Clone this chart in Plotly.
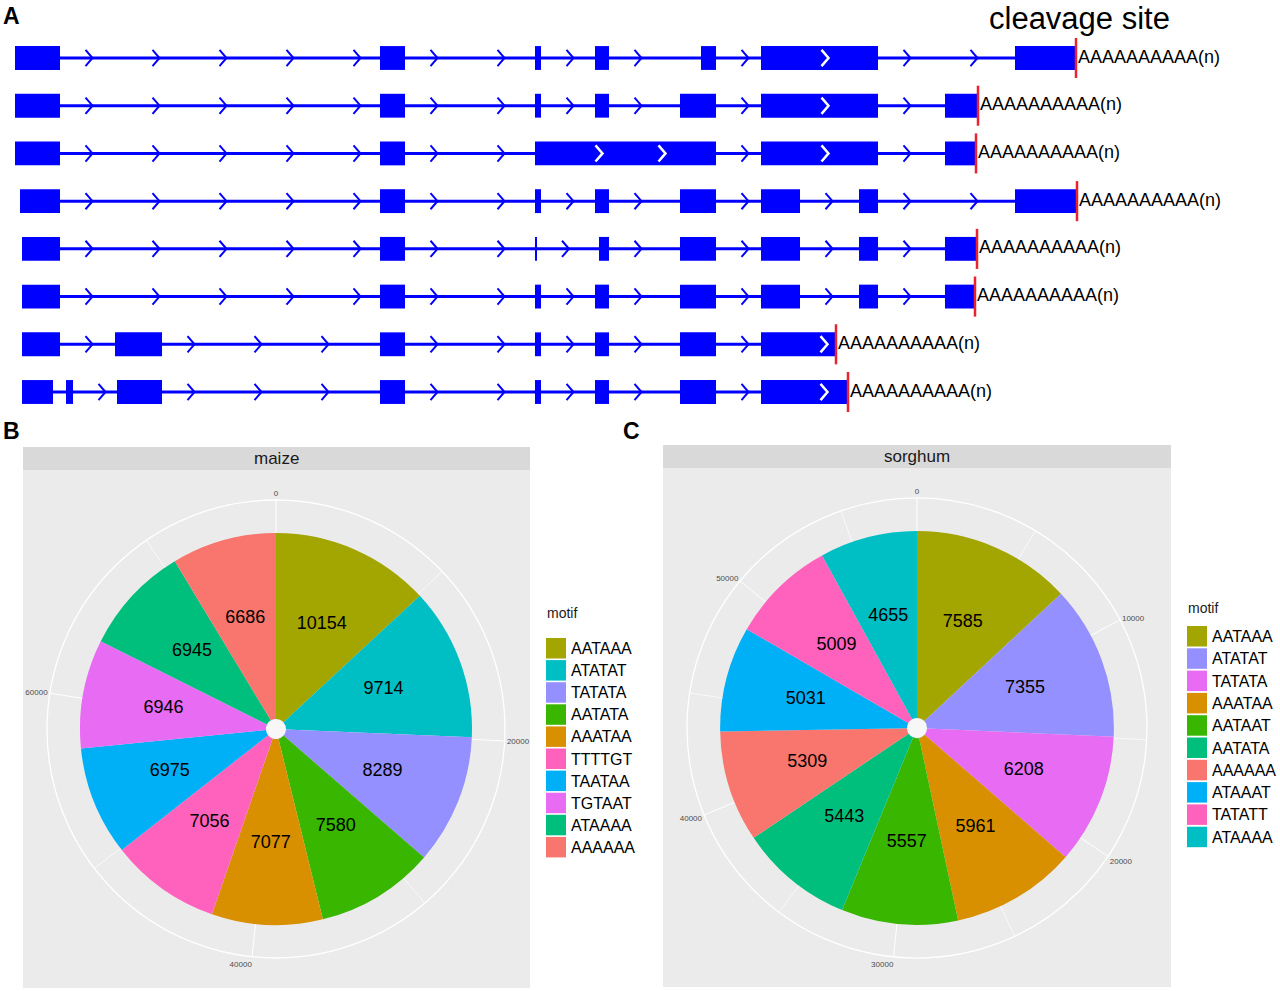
import plotly.graph_objects as go

W, H = 1280, 991

# ---------------- Panel A data (positions in arbitrary genomic units) ----------------
transcript_ids = [1, 2, 3, 4, 5, 6, 7, 8]
exon_starts = [
    [15, 380, 535, 595, 701, 761, 1015],
    [15, 380, 535, 595, 680, 761, 945],
    [15, 380, 535, 761, 945],
    [20, 380, 535, 595, 680, 761, 859, 1015],
    [22, 380, 535.5, 599, 680, 761, 859, 945],
    [22, 380, 535, 595, 680, 761, 859, 945],
    [22, 115, 380, 535, 595, 680, 761],
    [22, 66, 117, 380, 535, 595, 680, 761],
]
exon_ends = [
    [60, 405, 541, 609, 716, 878, 1076],
    [60, 405, 541, 609, 716, 878, 978],
    [60, 405, 716, 878, 976],
    [60, 405, 541, 609, 716, 800, 878, 1077],
    [60, 405, 536.5, 609, 716, 800, 878, 977],
    [60, 405, 541, 609, 716, 800, 878, 974],
    [60, 162, 405, 541, 609, 716, 836],
    [53, 73, 162, 405, 541, 609, 716, 847],
]
cleavage_sites = [1076, 978, 976, 1077, 977, 975, 836, 848]
exon_chevrons = [[825], [825], [599, 662, 825], [], [], [], [824], [824]]
polyA_text = "AAAAAAAAAA(n)"

# ---------------- Panels B / C data ----------------
maize_motifs = ["AATAAA", "ATATAT", "TATATA", "AATATA", "AAATAA",
                "TTTTGT", "TAATAA", "TGTAAT", "ATAAAA", "AAAAAA"]
maize_counts = [10154, 9714, 8289, 7580, 7077, 7056, 6975, 6946, 6945, 6686]
maize_colors = ["#A3A500", "#00BFC4", "#9590FF", "#39B600", "#D89000",
                "#FF62BC", "#00B0F6", "#E76BF3", "#00BF7D", "#F8766D"]
maize_major_ticks = [0, 20000, 40000, 60000]
maize_minor_ticks = [10000, 30000, 50000, 70000]

sorghum_motifs = ["AATAAA", "ATATAT", "TATATA", "AAATAA", "AATAAT",
                  "AATATA", "AAAAAA", "ATAAAT", "TATATT", "ATAAAA"]
sorghum_counts = [7585, 7355, 6208, 5961, 5557, 5443, 5309, 5031, 5009, 4655]
sorghum_colors = ["#A3A500", "#9590FF", "#E76BF3", "#D89000", "#39B600",
                  "#00BF7D", "#F8766D", "#00B0F6", "#FF62BC", "#00BFC4"]
sorghum_major_ticks = [0, 10000, 20000, 30000, 40000, 50000]
sorghum_minor_ticks = [5000, 15000, 25000, 35000, 45000, 55000]

BLUE = "#0000FF"
RED = "#E8232F"

def px(x):
    return x / W

def py(y):
    return 1 - y / H

fig = go.Figure()

# ---------------- Panel A ----------------
chev_x, chev_y = [], []
wchev_x, wchev_y = [], []
line_x, line_y = [], []
red_x, red_y = [], []
hw, hh = 3.5, 0.17
for i, t in enumerate(transcript_ids):
    s_list, e_list = exon_starts[i], exon_ends[i]
    line_x += [s_list[0], e_list[-1], None]
    line_y += [t, t, None]
    for k in range(len(s_list) - 1):
        a, b = e_list[k], s_list[k + 1]
        pos = a + 29
        while pos < b - 10:
            chev_x += [pos - hw, pos + hw, pos - hw, None]
            chev_y += [t - hh, t, t + hh, None]
            pos += 67
    for pos in exon_chevrons[i]:
        wchev_x += [pos - hw, pos + hw, pos - hw, None]
        wchev_y += [t - hh, t, t + hh, None]
    red_x += [cleavage_sites[i], cleavage_sites[i], None]
    red_y += [t - 0.42, t + 0.42, None]

fig.add_trace(go.Scatter(x=line_x, y=line_y, mode="lines",
                         line=dict(color=BLUE, width=3), hoverinfo="skip",
                         xaxis="x", yaxis="y"))
fig.add_trace(go.Scatter(x=chev_x, y=chev_y, mode="lines",
                         line=dict(color=BLUE, width=2), hoverinfo="skip"))

bar_y, bar_x, bar_base = [], [], []
for i, t in enumerate(transcript_ids):
    for s, e in zip(exon_starts[i], exon_ends[i]):
        bar_y.append(t)
        bar_x.append(e - s)
        bar_base.append(s)
fig.add_trace(go.Bar(y=bar_y, x=bar_x, base=bar_base, orientation="h",
                     width=0.5, marker=dict(color=BLUE, line=dict(width=0)),
                     hoverinfo="skip"))
fig.add_trace(go.Scatter(x=wchev_x, y=wchev_y, mode="lines",
                         line=dict(color="white", width=2.5), hoverinfo="skip"))
fig.add_trace(go.Scatter(x=red_x, y=red_y, mode="lines",
                         line=dict(color=RED, width=2.5), hoverinfo="skip"))
fig.add_trace(go.Scatter(x=[c + 2 for c in cleavage_sites], y=transcript_ids,
                         mode="text", text=[polyA_text] * len(transcript_ids),
                         textposition="middle right",
                         textfont=dict(family="Liberation Sans, Arial", size=18, color="black"),
                         hoverinfo="skip"))

# ---------------- Panels B / C ----------------
PIE_IN, PIE_OUT = 0.044, 0.856

def add_pie(name, counts, colors, major, minor):
    total = float(sum(counts))
    scale = 360.0 / total
    cum = 0
    mids, widths = [], []
    for c in counts:
        mids.append((cum + c / 2) * scale)
        widths.append(c * scale)
        cum += c
    mx, my = [], []
    for m in minor:
        mx += [m * scale, m * scale, None]
        my += [PIE_OUT, 1.0, None]
    fig.add_trace(go.Scatterpolar(r=my, theta=mx, mode="lines",
                                  line=dict(color="white", width=0.7),
                                  hoverinfo="skip", subplot=name))
    fig.add_trace(go.Barpolar(r=[PIE_OUT - PIE_IN] * len(counts), base=[PIE_IN] * len(counts),
                              theta=mids, width=widths,
                              marker=dict(color=colors, line=dict(width=0)),
                              hoverinfo="skip", subplot=name))
    fig.add_trace(go.Scatterpolar(r=[0], theta=[0], mode="markers",
                                  marker=dict(color="#F7F7F7", size=19, line=dict(width=0)),
                                  hoverinfo="skip", subplot=name))
    fig.add_trace(go.Scatterpolar(r=[0.5] * len(counts), theta=mids, mode="text",
                                  text=[str(c) for c in counts],
                                  textfont=dict(family="Liberation Sans, Arial", size=18, color="black"),
                                  hoverinfo="skip", subplot=name))
    return dict(
        bgcolor="#EBEBEB",
        angularaxis=dict(rotation=90, direction="clockwise", layer="below traces",
                         tickmode="array", tickvals=[m * scale for m in major],
                         ticktext=[str(m) for m in major],
                         showgrid=True, gridcolor="white", gridwidth=1.2,
                         showline=True, linecolor="white", linewidth=1.3,
                         ticks="", ticklen=0,
                         tickfont=dict(family="Liberation Sans, Arial", size=8, color="#4D4D4D")),
        radialaxis=dict(range=[0, 1], autorange=False, visible=False, layer="below traces",
                        showgrid=False, showline=False, showticklabels=False, ticks=""),
    )

polar_b = add_pie("polar", maize_counts, maize_colors, maize_major_ticks, maize_minor_ticks)
polar_c = add_pie("polar2", sorghum_counts, sorghum_colors, sorghum_major_ticks, sorghum_minor_ticks)

cb, rb = (276, 729), 229
cc, rc = (917, 728), 230
polar_b["domain"] = dict(x=[px(cb[0] - rb), px(cb[0] + rb)], y=[py(cb[1] + rb), py(cb[1] - rb)])
polar_c["domain"] = dict(x=[px(cc[0] - rc), px(cc[0] + rc)], y=[py(cc[1] + rc), py(cc[1] - rc)])

shapes = []
annotations = []

def facet(x0, x1, strip_top, strip_bot, panel_bot, title):
    shapes.append(dict(type="rect", xref="paper", yref="paper", layer="below",
                       x0=px(x0), x1=px(x1), y0=py(panel_bot), y1=py(strip_bot),
                       fillcolor="#EBEBEB", line=dict(width=0)))
    shapes.append(dict(type="rect", xref="paper", yref="paper", layer="below",
                       x0=px(x0), x1=px(x1), y0=py(strip_bot), y1=py(strip_top),
                       fillcolor="#D9D9D9", line=dict(width=0)))
    annotations.append(dict(x=px((x0 + x1) / 2), y=py((strip_top + strip_bot) / 2),
                            xref="paper", yref="paper", text=title, showarrow=False,
                            xanchor="center", yanchor="middle",
                            font=dict(family="Liberation Sans, Arial", size=17, color="#1A1A1A")))

facet(23, 530, 447, 470, 988, "maize")
facet(663, 1171, 445, 468, 987, "sorghum")

def legend(x_key, title_y, first_top, step, motifs, colors):
    annotations.append(dict(x=px(x_key - 1), y=py(title_y), xref="paper", yref="paper",
                            text="motif", showarrow=False, xanchor="left", yanchor="middle",
                            font=dict(family="Liberation Sans, Arial", size=14, color="#1A1A1A")))
    for k, (m, c) in enumerate(zip(motifs, colors)):
        top = first_top + k * step
        shapes.append(dict(type="rect", xref="paper", yref="paper",
                           x0=px(x_key), x1=px(x_key + 20), y0=py(top + 20.5), y1=py(top),
                           fillcolor=c, line=dict(width=0)))
        annotations.append(dict(x=px(x_key + 23), y=py(top + 10.5), xref="paper", yref="paper",
                                text=m, showarrow=False, xanchor="left", yanchor="middle",
                                font=dict(family="Liberation Sans, Arial", size=16, color="black")))

legend(546, 613, 638, 22.1, maize_motifs, maize_colors)
legend(1187, 608, 626, 22.3, sorghum_motifs, sorghum_colors)

for lbl, x, y in [("A", 1, 16), ("B", 1, 431), ("C", 621, 431)]:
    annotations.append(dict(x=px(x), y=py(y), xref="paper", yref="paper", text="<b>%s</b>" % lbl,
                            showarrow=False, xanchor="left", yanchor="middle",
                            font=dict(family="Liberation Sans, Arial", size=23, color="black")))
annotations.append(dict(x=px(1079), y=py(18), xref="paper", yref="paper", text="cleavage site",
                        showarrow=False, xanchor="center", yanchor="middle",
                        font=dict(family="Liberation Sans, Arial", size=31, color="black")))

row_step = (392 - 58) / 7.0
dom_top_px, dom_bot_px = 0, 416
y_top_val = 1 - (58 - dom_top_px) / row_step
y_bot_val = 1 + (dom_bot_px - 58) / row_step

fig.update_layout(
    width=W, height=H, margin=dict(l=0, r=0, t=0, b=0),
    paper_bgcolor="white", plot_bgcolor="rgba(0,0,0,0)",
    showlegend=False, barmode="overlay",
    xaxis=dict(domain=[0, 1], range=[0, W], visible=False, fixedrange=True),
    yaxis=dict(domain=[py(dom_bot_px), py(dom_top_px)], range=[y_bot_val, y_top_val],
               visible=False, fixedrange=True),
    polar=polar_b, polar2=polar_c,
    shapes=shapes, annotations=annotations,
)

fig.write_html("out.html", config={"displayModeBar": False},
               post_script="document.body.style.margin='0px';document.body.style.overflow='hidden';")
